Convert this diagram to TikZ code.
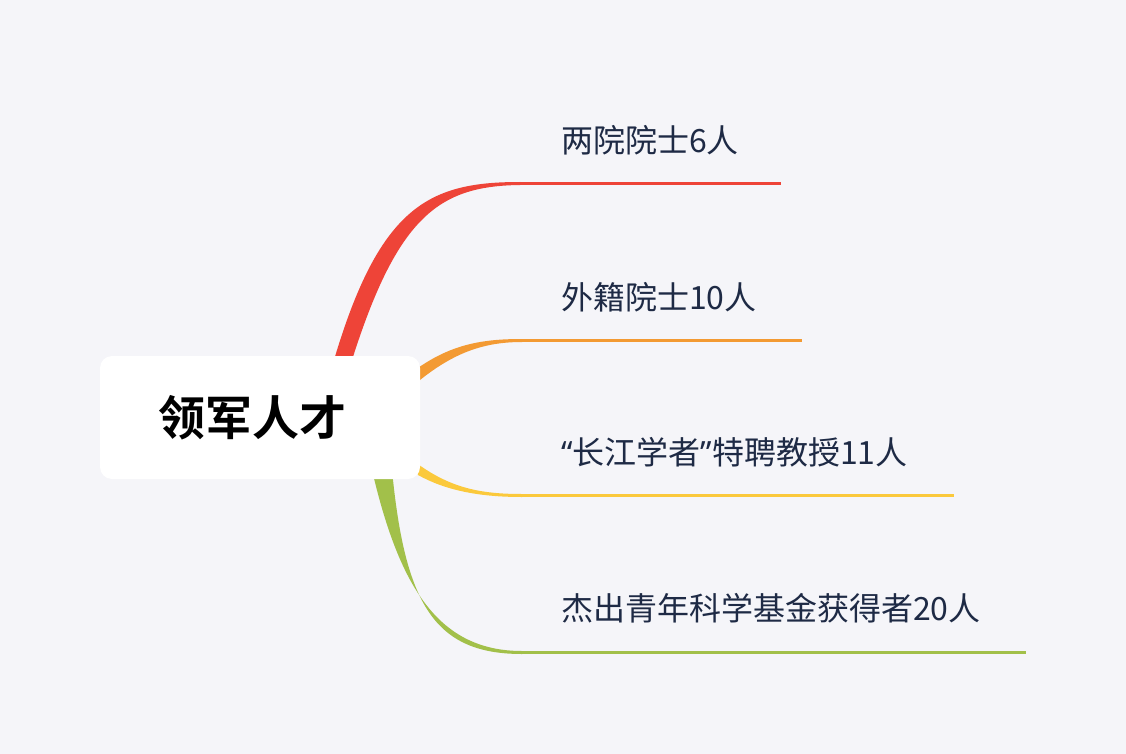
\documentclass[tikz,border=0pt]{standalone}
\usepackage{fontspec}
\newfontfamily\cjk{Noto Sans CJK SC}
\newfontfamily\cjkb{Noto Sans CJK SC Bold}
\newfontfamily\lat{Noto Sans}
\definecolor{bg}{HTML}{F5F5F9}
\definecolor{txt}{HTML}{1E2A45}
\definecolor{cr}{HTML}{EE4438}
\definecolor{co}{HTML}{F39A33}
\definecolor{cy}{HTML}{FBC93C}
\definecolor{cg}{HTML}{A2C04A}
\tikzset{lbl/.style={anchor=west,inner sep=0pt,text=txt,font=\cjk\fontsize{32}{36}\selectfont}}
\begin{document}
\begin{tikzpicture}[x=1pt,y=-1pt]
\fill[bg] (0,0) rectangle (1126,754);
% branches
\fill[cr] (334,360) .. controls (380,205) and (430,182) .. (520,182) -- (520,185) .. controls (440,186) and (398,215) .. (352,360) -- cycle;
\draw[cr,line width=3pt] (520,183.5) -- (781,183.5);
\fill[co] (415,370) .. controls (450,345) and (480,339) .. (522,339) -- (522,342) .. controls (485,342) and (455,352) .. (420,380) -- cycle;
\draw[co,line width=3pt] (520,340.5) -- (802,340.5);
\fill[cy] (415,462) .. controls (450,488) and (480,494) .. (522,494) -- (522,497) .. controls (478,497) and (445,490) .. (418,475) -- cycle;
\draw[cy,line width=3pt] (520,495.5) -- (954,495.5);
\fill[cg] (372,470) .. controls (400,590) and (440,651) .. (522,651) -- (522,654) .. controls (435,654) and (405,605) .. (392,470) -- cycle;
\draw[cg,line width=3pt] (520,652.5) -- (1026,652.5);
% root
\node[fill=white,rounded corners=12pt,minimum width=320pt,minimum height=123pt,inner sep=0pt,
  font=\cjkb\fontsize{47}{52}\selectfont,text=black,text width=320pt,align=left] (root) at (260,417.5) {\hspace*{58pt}领军人才};
\node[lbl] (a) at (561,140) {两院院士6人};
\node[lbl] (b) at (561,297) {外籍院士10人};
\node[lbl] (c) at (561,452) {{\lat “}长江学者{\lat ”}特聘教授11人};
\node[lbl] (d) at (561,608) {杰出青年科学基金获得者20人};
\end{tikzpicture}
\end{document}
